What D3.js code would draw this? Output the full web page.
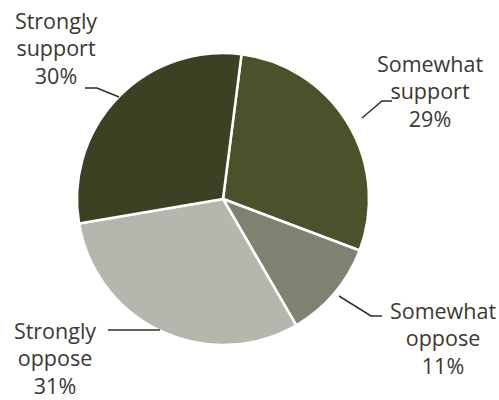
<!DOCTYPE html>
<html><head><meta charset="utf-8">
<script src="https://cdn.jsdelivr.net/npm/d3@7"></script>
<style>body{margin:0;background:#fff}svg{display:block}</style>
</head><body>
<svg id="c" width="499" height="400"></svg>
<script>
const categories = ["Somewhat support", "Somewhat oppose", "Strongly oppose", "Strongly support"];
const labelLines = [["Somewhat","support"],["Somewhat","oppose"],["Strongly","oppose"],["Strongly","support"]];
const values = [29, 11, 31, 30];
const colors = ["#4a522c", "#7d8370", "#b5b7ae", "#3b4122"];

const svg = d3.select("#c");
const cx = 223, cy = 199, r = 146;
const start = 7.3 * Math.PI / 180;
const pie = d3.pie().sort(null).startAngle(start).endAngle(start + 2*Math.PI);
const arcs = pie(values);
const arc = d3.arc().innerRadius(0).outerRadius(r);
const g = svg.append("g").attr("transform", `translate(${cx},${cy})`);
g.selectAll("path").data(arcs).join("path")
  .attr("d", arc).attr("fill", (d,i)=>colors[i])
  .attr("stroke", "#fff").attr("stroke-width", 2.5).attr("stroke-linejoin","round");

const layout = [
  {x: 430, y: 64, pts: [[362,118],[382,101],[392,101]]},
  {x: 443, y: 311, pts: [[339,296],[371,316],[382,316]]},
  {x: 55,  y: 331, pts: [[160,330],[108,330]]},
  {x: 56,  y: 21,  pts: [[119,97],[97,88],[85,88]]}
];
const lh = 27.5;
arcs.forEach((a,i)=>{
  const L = layout[i];
  svg.append("polyline").attr("points", L.pts.map(p=>p.join(",")).join(" "))
    .attr("fill","none").attr("stroke","#2f2f28").attr("stroke-width",1.5);
  const t = svg.append("text").attr("text-anchor","middle")
    .attr("font-family","'Open Sans', sans-serif").attr("font-size",21.5)
    .attr("fill","#3a3832");
  const lines = labelLines[i].concat([values[i] + "%"]);
  lines.forEach((s,k)=>{
    t.append("tspan").attr("x", L.x).attr("y", L.y + k*lh).attr("dy","0.35em").text(s);
  });
});
</script>
</body></html>
